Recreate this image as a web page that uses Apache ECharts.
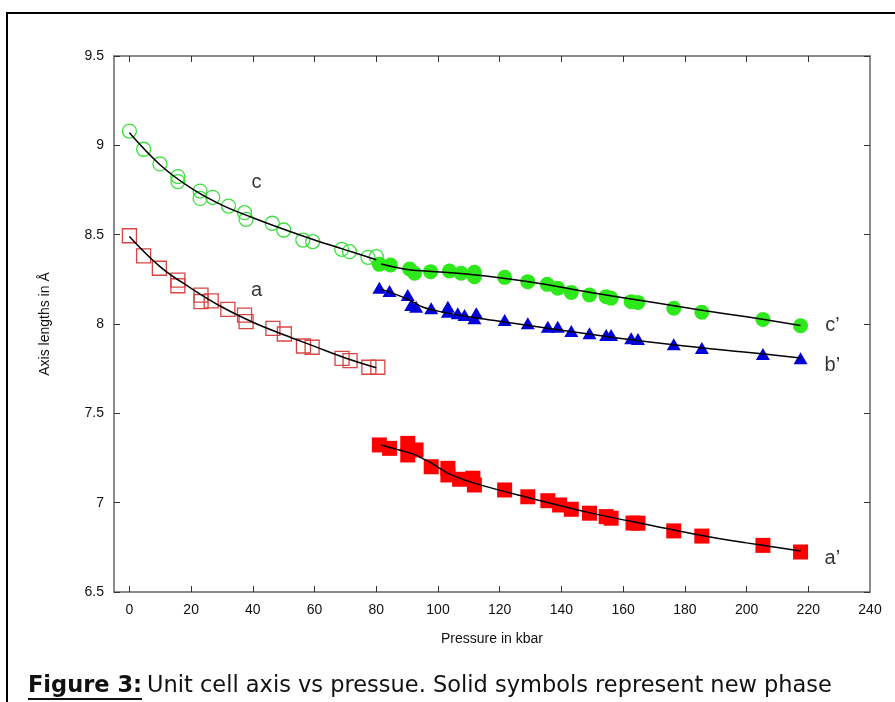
<!DOCTYPE html>
<html>
<head>
<meta charset="utf-8">
<script src="https://cdn.jsdelivr.net/npm/echarts@6/dist/echarts.min.js"></script>
<style>
html,body{margin:0;padding:0;background:#fff;}
#chart{width:895px;height:702px;}
</style>
</head>
<body>
<div id="chart"></div>
<script>
// ---- data ----
const xTicks = [0,20,40,60,80,100,120,140,160,180,200,220];
const xTickLabels = [0,20,40,60,80,100,120,140,160,180,200,220,240];

// open circles: c axis (old phase)
const cP = [0,4.6,9.9,15.7,15.7,22.9,22.9,27.0,32.1,37.3,37.8,46.3,50.0,56.2,59.4,68.8,71.3,77.3,80.0];
const cV = [9.08,8.978,8.896,8.825,8.797,8.744,8.703,8.709,8.660,8.623,8.586,8.564,8.526,8.470,8.461,8.418,8.405,8.373,8.377];
// open squares: a axis (old phase)
const aP = [0,4.6,9.7,15.7,15.7,23.2,23.2,26.5,31.9,37.3,37.8,46.5,50.2,56.4,59.2,68.9,71.5,77.6,80.5];
const aV = [8.494,8.381,8.312,8.246,8.214,8.162,8.125,8.129,8.082,8.050,8.013,7.976,7.944,7.877,7.870,7.808,7.795,7.758,7.758];
// solid circles: c' axis (new phase)
const c2P = [81.0,84.6,90.8,92.4,97.6,103.7,107.5,111.8,111.8,121.6,129.1,135.4,138.8,143.2,149.1,154.5,156.1,162.6,164.8,176.4,185.5,205.3,217.5];
const c2V = [8.334,8.330,8.308,8.284,8.293,8.297,8.284,8.289,8.265,8.261,8.237,8.222,8.200,8.177,8.162,8.153,8.144,8.125,8.121,8.088,8.066,8.025,7.990];
// solid triangles: b' axis (new phase)
const b2P = [81.0,84.3,90.2,91.3,92.9,97.8,103.2,103.2,106.4,108.6,112.4,111.8,121.6,129.1,135.6,138.8,143.2,149.1,154.5,156.1,162.6,164.8,176.4,185.5,205.3,217.5];
const b2V = [8.203,8.185,8.162,8.106,8.097,8.088,8.097,8.069,8.060,8.050,8.060,8.032,8.022,8.004,7.985,7.985,7.961,7.948,7.938,7.938,7.920,7.916,7.886,7.866,7.832,7.809];
// solid squares: a' axis (new phase)
const a2P = [81.0,84.3,90.2,90.2,92.9,97.8,103.2,103.2,107.0,111.3,111.8,121.6,129.1,135.6,139.4,143.2,149.1,154.5,156.1,163.2,164.8,176.4,185.5,205.3,217.5];
const a2V = [7.323,7.304,7.332,7.267,7.295,7.201,7.192,7.155,7.131,7.137,7.099,7.071,7.033,7.011,6.987,6.963,6.941,6.922,6.913,6.886,6.885,6.842,6.813,6.761,6.724];

// fitted curves
const cFitP = [0,10,20,30,40,50,60,70,80];
const cFitV = [9.07,8.89,8.76,8.665,8.595,8.53,8.47,8.415,8.36];
const aFitP = [0,10,20,30,40,50,60,70,80];
const aFitV = [8.49,8.32,8.2,8.095,8.01,7.94,7.875,7.81,7.755];
const c2FitP = [81.6,90,97,110,130,150,170,185,200,217.5];
const c2FitV = [8.336,8.305,8.295,8.278,8.235,8.175,8.12,8.078,8.04,7.992];
const b2FitP = [81.5,90,95,100,110,120,140,160,180,200,217.5];
const b2FitV = [8.195,8.14,8.095,8.072,8.04,8.015,7.965,7.918,7.877,7.842,7.81];
const a2FitP = [81.6,88,92,98,104,112,130,150,170,185,200,217.5];
const a2FitV = [7.323,7.292,7.272,7.22,7.158,7.108,7.025,6.94,6.87,6.818,6.775,6.73];

// curve labels
const labelText = ['c','a','c\u2019','b\u2019','a\u2019'];
const labelP = [41.2,41.2,227.8,227.8,227.8];
const labelV = [8.79,8.19,7.99,7.77,6.69];

// ---- chart ----
const zip = (xs, ys) => xs.map((x, i) => [x, ys[i]]);
const axisFont = "'Liberation Sans Narrow','Liberation Sans',Arial,sans-serif";
const axisColor = '#666';

const chart = echarts.init(document.getElementById('chart'), null, {renderer: 'canvas'});

const fitLine = (xs, ys) => ({
  type: 'line', data: zip(xs, ys), smooth: 0.4, showSymbol: false, symbol: 'none',
  lineStyle: {color: '#000', width: 1.5}, z: 5, silent: true
});

chart.setOption({
  animation: false,
  backgroundColor: '#fff',
  grid: {left: 114, right: 25, top: 56, bottom: 110, containLabel: false, outerBoundsMode: 'none'},
  xAxis: [{
    type: 'value', min: -5, max: 240, position: 'bottom',
    axisLine: {show: true, onZero: false, lineStyle: {color: axisColor, width: 1.5}},
    axisTick: {show: true, inside: true, length: 6, customValues: xTicks, lineStyle: {color: '#333', width: 1}},
    axisLabel: {show: true, customValues: xTickLabels, margin: 11, color: '#111', fontSize: 14, fontFamily: axisFont},
    splitLine: {show: false},
    name: 'Pressure in kbar', nameLocation: 'middle', nameGap: 40,
    nameTextStyle: {color: '#111', fontSize: 14, fontFamily: axisFont}
  }, {
    type: 'value', min: -5, max: 240, position: 'top',
    axisLine: {show: true, onZero: false, lineStyle: {color: axisColor, width: 1.5}},
    axisTick: {show: true, inside: true, length: 6, customValues: xTicks, lineStyle: {color: '#333', width: 1}},
    axisLabel: {show: false}, splitLine: {show: false}
  }],
  yAxis: [{
    type: 'value', min: 6.5, max: 9.5, interval: 0.5, position: 'left',
    axisLine: {show: true, onZero: false, lineStyle: {color: axisColor, width: 1.5}},
    axisTick: {show: true, inside: true, length: 6, lineStyle: {color: '#333', width: 1}},
    axisLabel: {show: true, margin: 10, color: '#111', fontSize: 14, fontFamily: axisFont},
    splitLine: {show: false},
    name: 'Axis lengths in \u00c5', nameLocation: 'middle', nameGap: 62, nameRotate: 90,
    nameTextStyle: {color: '#111', fontSize: 14, fontFamily: axisFont}
  }, {
    type: 'value', min: 6.5, max: 9.5, interval: 0.5, position: 'right',
    axisLine: {show: true, onZero: false, lineStyle: {color: axisColor, width: 1.5}},
    axisTick: {show: true, inside: true, length: 6, lineStyle: {color: '#333', width: 1}},
    axisLabel: {show: false}, splitLine: {show: false}
  }],
  series: [
    {type: 'scatter', data: zip(cP, cV), symbol: 'circle', symbolSize: 14,
     itemStyle: {color: 'rgba(0,0,0,0)', borderColor: '#3be03b', borderWidth: 1.3, opacity: 1}, z: 3},
    {type: 'scatter', data: zip(aP, aV), symbol: 'rect', symbolSize: 14,
     itemStyle: {color: 'rgba(0,0,0,0)', borderColor: '#d94545', borderWidth: 1.3, opacity: 1}, z: 3},
    {type: 'scatter', data: zip(c2P, c2V), symbol: 'circle', symbolSize: 15,
     itemStyle: {color: '#2de81a', opacity: 1}, z: 3},
    {type: 'scatter', data: zip(b2P, b2V), symbol: 'triangle', symbolSize: [14, 12],
     itemStyle: {color: '#0000d8', opacity: 1}, z: 3},
    {type: 'scatter', data: zip(a2P, a2V), symbol: 'rect', symbolSize: 15,
     itemStyle: {color: '#ff0000', opacity: 1}, z: 3},
    fitLine(cFitP, cFitV),
    fitLine(aFitP, aFitV),
    fitLine(c2FitP, c2FitV),
    fitLine(b2FitP, b2FitV),
    fitLine(a2FitP, a2FitV),
    {type: 'scatter', symbolSize: 0, silent: true, z: 6,
     data: labelText.map((t, i) => ({value: [labelP[i], labelV[i]], name: t})),
     label: {show: true, position: 'inside', formatter: p => p.name, color: '#000', fontSize: 20,
             fontFamily: "'Liberation Sans',Arial,sans-serif"}}
  ],
  graphic: [
    {type: 'rect', shape: {x: 7, y: 13, width: 960, height: 760}, style: {fill: 'none', stroke: '#000', lineWidth: 2}, silent: true},
    {type: 'text', left: 28, top: 675, style: {text: 'Figure 3:', font: "bold 22.5px 'DejaVu Sans', Verdana, sans-serif", fill: '#111'}},
    {type: 'rect', shape: {x: 28, y: 698, width: 114, height: 2}, style: {fill: '#111'}},
    {type: 'text', left: 147, top: 675, style: {text: 'Unit cell axis vs pressue. Solid symbols represent new phase', font: "22.5px 'DejaVu Sans', Verdana, sans-serif", fill: '#111'}}
  ]
});
</script>
</body>
</html>
